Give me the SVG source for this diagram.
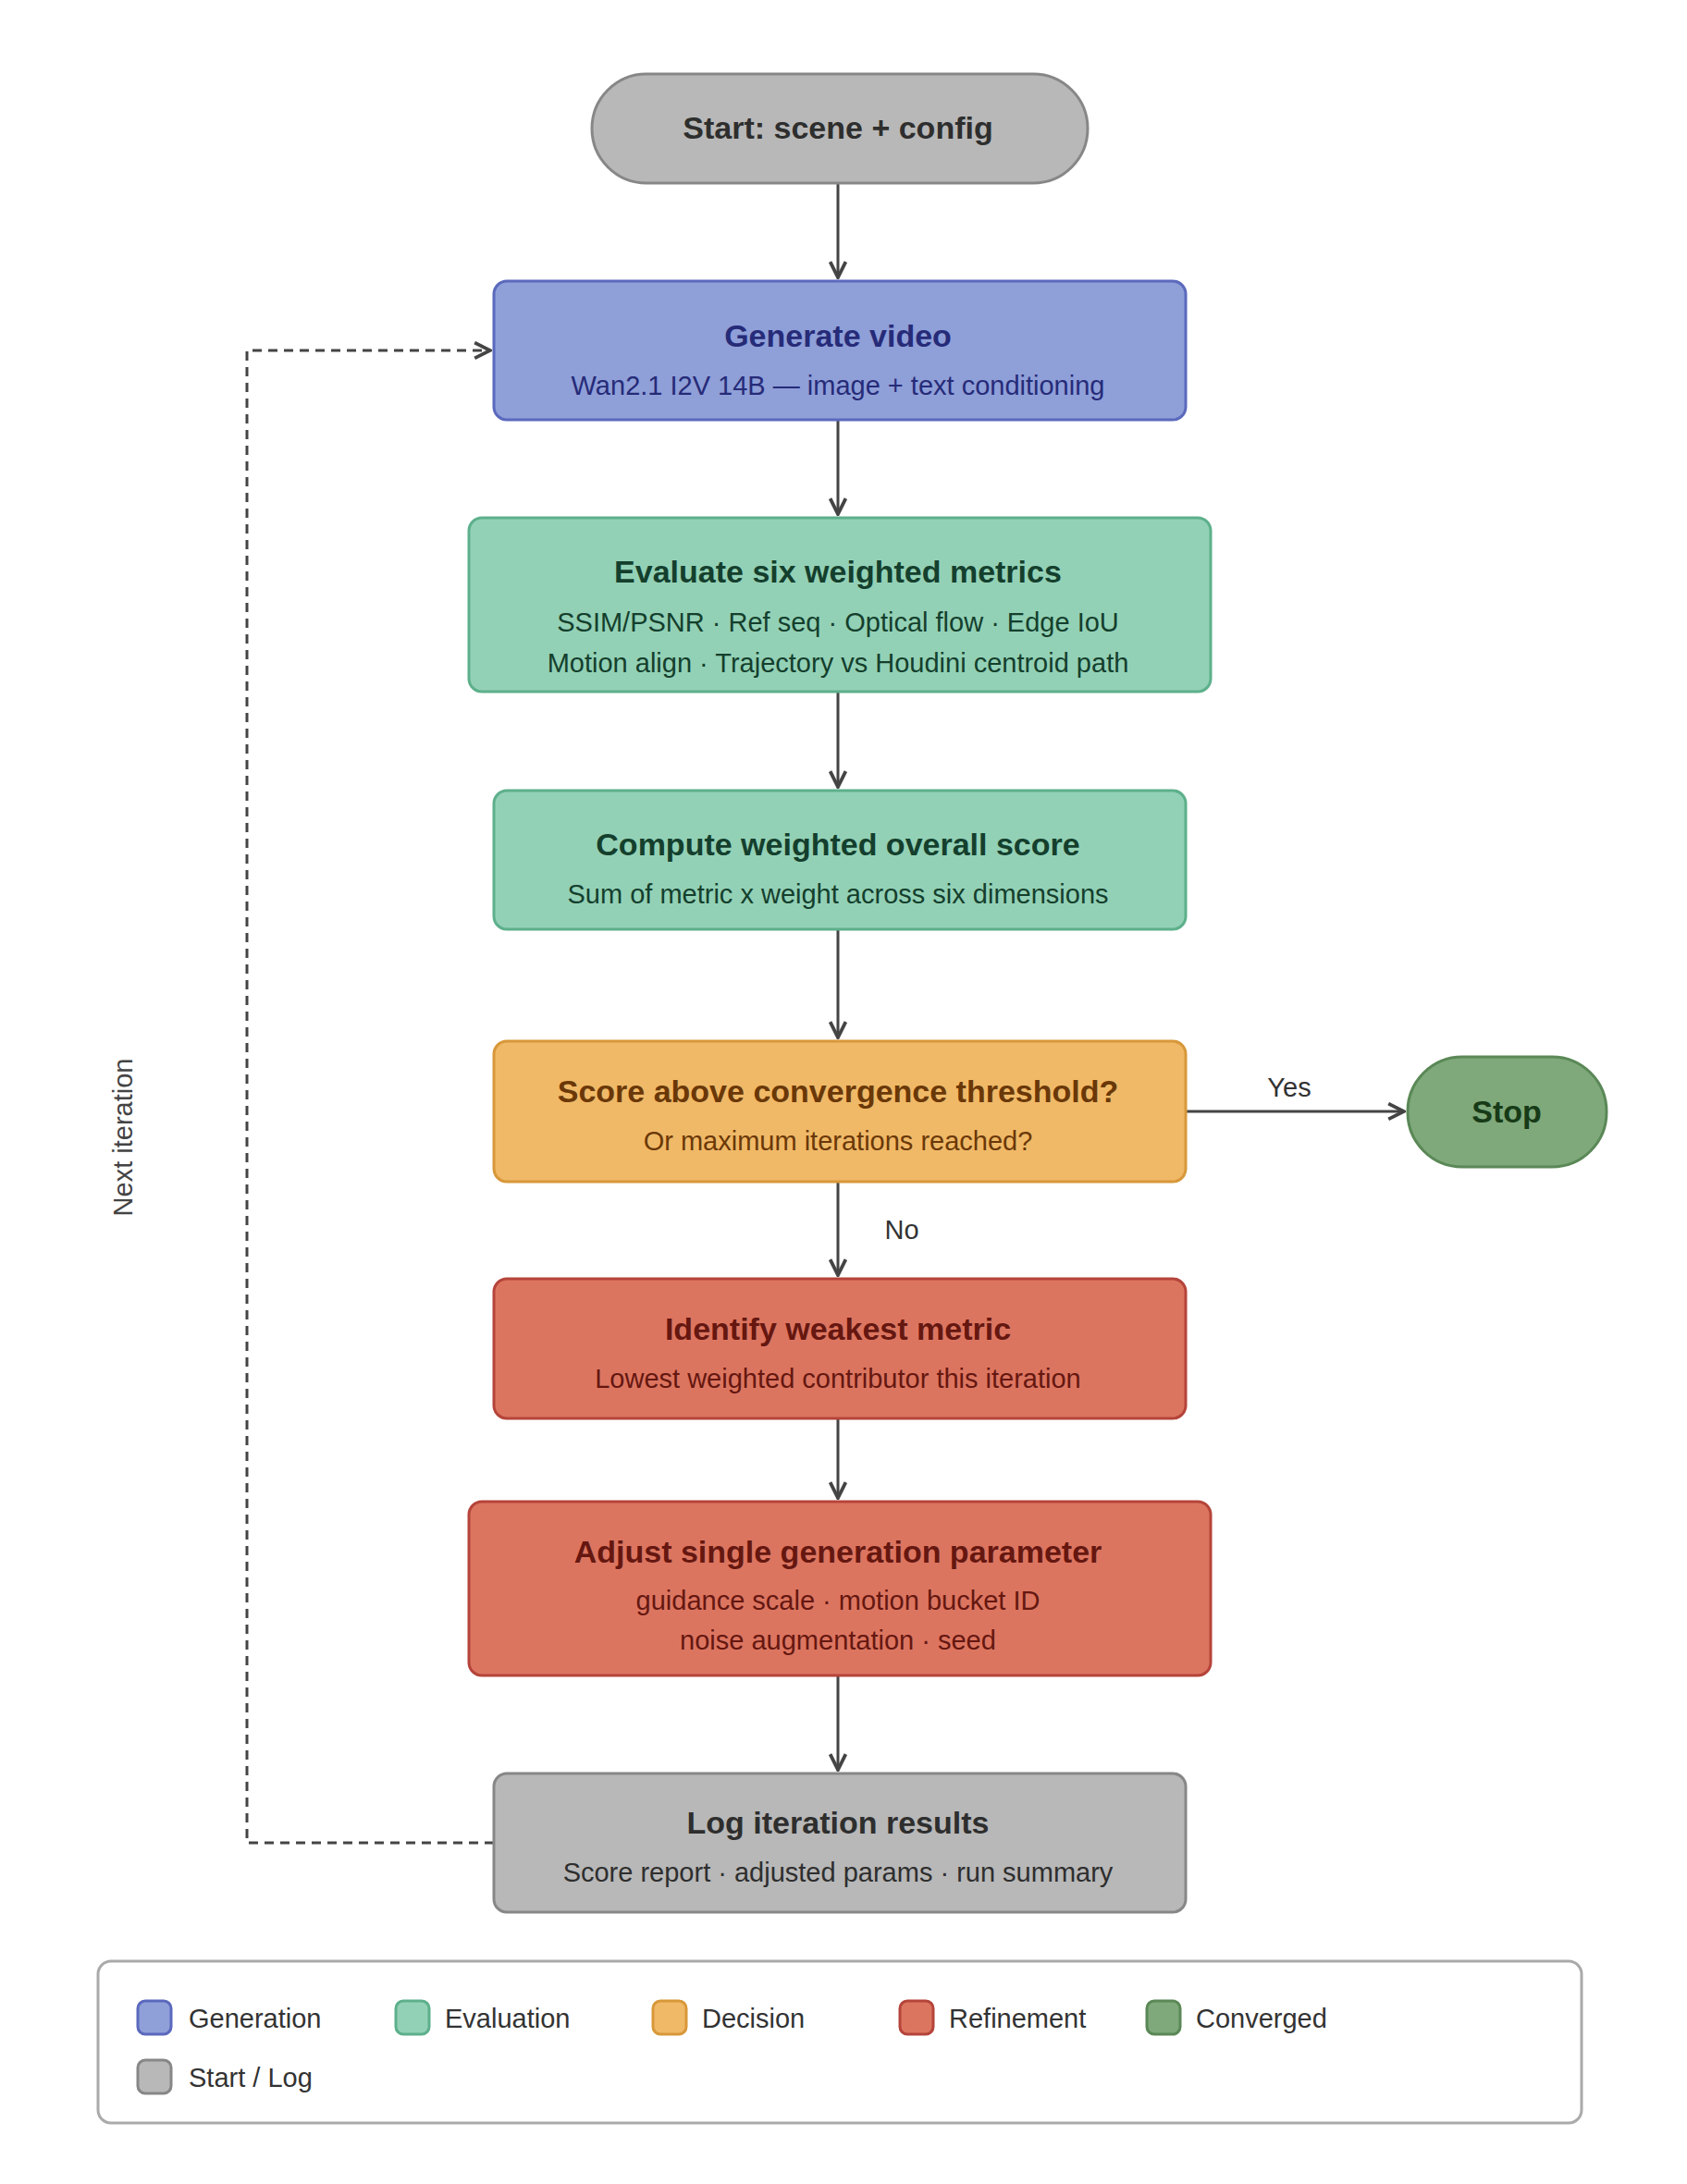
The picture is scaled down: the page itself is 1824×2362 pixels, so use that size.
<svg xmlns="http://www.w3.org/2000/svg" width="1824" height="2362" viewBox="0 0 1824 2362">
<style>
text{font-family:"Liberation Sans",Arial,sans-serif;text-anchor:middle}
.t{font-size:34px;font-weight:bold}
.s{font-size:29px}
.gen rect{fill:#8f9fd8;stroke:#5b69bd}
.gen text{fill:#262b78}
.ev rect{fill:#93d1b6;stroke:#5db08b}
.ev text{fill:#143f2d}
.dec rect{fill:#f0b967;stroke:#d8983a}
.dec text{fill:#6a3808}
.ref rect{fill:#dc7560;stroke:#b5443a}
.ref text{fill:#651710}
.log rect{fill:#b8b8b8;stroke:#878787}
.log text{fill:#2e2e2e}
.conv rect{fill:#7fa97b;stroke:#5a8856}
.conv text{fill:#173a17}
rect{stroke-width:3}
.c{stroke:#444;stroke-width:3;fill:none}
.lg{font-size:29px;text-anchor:start;fill:#333}
</style>
<defs><marker id="a" viewBox="0 0 10 10" refX="9" refY="5" markerWidth="7" markerHeight="7" orient="auto"><path d="M1,1 L9,5 L1,9" fill="none" stroke="#444" stroke-width="1.8"/></marker></defs>
<rect width="1824" height="2362" fill="#fff" stroke="none"/>
<g id="connectors">
<path class="c" d="M906 198V300" marker-end="url(#a)"/>
<path class="c" d="M906 454V556" marker-end="url(#a)"/>
<path class="c" d="M906 748V851" marker-end="url(#a)"/>
<path class="c" d="M906 1005V1122" marker-end="url(#a)"/>
<path class="c" d="M1282 1202H1518" marker-end="url(#a)"/>
<path class="c" d="M906 1278V1379" marker-end="url(#a)"/>
<path class="c" d="M906 1534V1620" marker-end="url(#a)"/>
<path class="c" d="M906 1812V1914" marker-end="url(#a)"/>
<path class="c" d="M534 1993H267V379H530" stroke-dasharray="10 7" marker-end="url(#a)"/>
<text x="1394" y="1186" class="s" fill="#333">Yes</text>
<text x="975" y="1340" class="s" fill="#333">No</text>
<text x="0" y="0" class="s" fill="#444" transform="translate(143 1230) rotate(-90)">Next iteration</text>
</g>
<g id="start" class="log"><rect x="640" y="80" width="536" height="118" rx="59"/><text x="906" y="150" class="t">Start: scene + config</text></g>
<g id="generate" class="gen"><rect x="534" y="304" width="748" height="150" rx="14"/><text x="906" y="375" class="t">Generate video</text><text x="906" y="427" class="s">Wan2.1 I2V 14B — image + text conditioning</text></g>
<g id="evaluate" class="ev"><rect x="507" y="560" width="802" height="188" rx="14"/><text x="906" y="630" class="t">Evaluate six weighted metrics</text><text x="906" y="683" class="s">SSIM/PSNR · Ref seq · Optical flow · Edge IoU</text><text x="906" y="727" class="s">Motion align · Trajectory vs Houdini centroid path</text></g>
<g id="compute" class="ev"><rect x="534" y="855" width="748" height="150" rx="14"/><text x="906" y="925" class="t">Compute weighted overall score</text><text x="906" y="977" class="s">Sum of metric x weight across six dimensions</text></g>
<g id="decision" class="dec"><rect x="534" y="1126" width="748" height="152" rx="14"/><text x="906" y="1192" class="t">Score above convergence threshold?</text><text x="906" y="1244" class="s">Or maximum iterations reached?</text></g>
<g id="stop" class="conv"><rect x="1522" y="1143" width="215" height="119" rx="59"/><text x="1629" y="1214" class="t">Stop</text></g>
<g id="identify" class="ref"><rect x="534" y="1383" width="748" height="151" rx="14"/><text x="906" y="1449" class="t">Identify weakest metric</text><text x="906" y="1501" class="s">Lowest weighted contributor this iteration</text></g>
<g id="adjust" class="ref"><rect x="507" y="1624" width="802" height="188" rx="14"/><text x="906" y="1690" class="t">Adjust single generation parameter</text><text x="906" y="1741" class="s">guidance scale · motion bucket ID</text><text x="906" y="1784" class="s">noise augmentation · seed</text></g>
<g id="log" class="log"><rect x="534" y="1918" width="748" height="150" rx="14"/><text x="906" y="1983" class="t">Log iteration results</text><text x="906" y="2035" class="s">Score report · adjusted params · run summary</text></g>
<g id="legend">
<rect x="106" y="2121" width="1604" height="175" rx="14" fill="#fff" stroke="#aaa"/>
<g class="gen"><rect x="149" y="2164" width="36" height="36" rx="8"/></g><text class="lg" x="204" y="2193">Generation</text>
<g class="ev"><rect x="428" y="2164" width="36" height="36" rx="8"/></g><text class="lg" x="481" y="2193">Evaluation</text>
<g class="dec"><rect x="706" y="2164" width="36" height="36" rx="8"/></g><text class="lg" x="759" y="2193">Decision</text>
<g class="ref"><rect x="973" y="2164" width="36" height="36" rx="8"/></g><text class="lg" x="1026" y="2193">Refinement</text>
<g class="conv"><rect x="1240" y="2164" width="36" height="36" rx="8"/></g><text class="lg" x="1293" y="2193">Converged</text>
<g class="log"><rect x="149" y="2228" width="36" height="36" rx="8"/></g><text class="lg" x="204" y="2257">Start / Log</text>
</g>
</svg>
